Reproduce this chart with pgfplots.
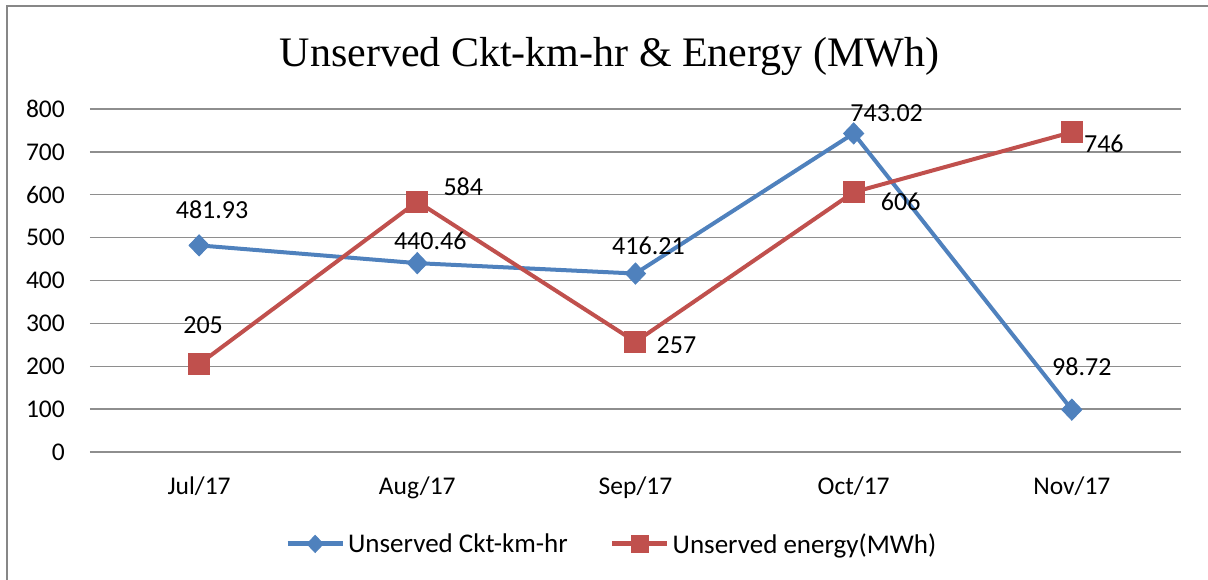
\documentclass[border=0pt]{standalone}
\usepackage{fontspec}
\setmainfont{Carlito}
\newfontfamily\titlefont{Liberation Serif}
\usepackage{pgfplots}
\pgfplotsset{compat=1.18}
\usepackage{pgfplotstable}
\definecolor{sblue}{HTML}{4F81BD}
\definecolor{sred}{HTML}{C0504D}
\definecolor{gridc}{HTML}{8E8E8E}
\definecolor{framec}{HTML}{878787}

\pgfplotstableread{
x y dx dy lab
0 481.93 13 35.4 481.93
1 440.46 13 22.7 440.46
2 416.21 13 28 416.21
3 743.02 33 20 743.02
4 98.72 10 43 98.72
}\blueT

\pgfplotstableread{
x y dx dy lab
0 205 4 38.6 205
1 584 46 14.6 584
2 257 41 -3 257
3 606 47 -9.3 606
4 746 32 -11.5 746
}\redT

\begin{document}
\begin{tikzpicture}
\draw[framec, line width=2pt] (-83pt,-140pt) -- (-83pt,446pt) -- (1130pt,446pt);
\begin{axis}[
  at={(0pt,0pt)}, anchor=south west,
  scale only axis, width=1091pt, height=343pt,
  xmin=-0.5, xmax=4.5, ymin=0, ymax=800,
  xtick={0,1,2,3,4},
  xticklabels={Jul/17,Aug/17,Sep/17,Oct/17,Nov/17},
  ytick={0,100,...,800},
  axis line style={draw=none},
  major tick length=0pt,
  ymajorgrids,
  grid style={gridc, line width=1.3pt},
  tick label style={font=\fontsize{25.5}{30}\selectfont, /pgf/number format/assume math mode=true},
  yticklabel style={anchor=east, inner sep=0pt, xshift=-25pt},
  xticklabel style={anchor=base, inner sep=0pt, yshift=-43pt},
  clip=false,
  legend style={at={(0.1787,-0.268)}, anchor=west, draw=none, fill=none, inner sep=0pt,
    font=\fontsize{27}{31}\selectfont,
    nodes={inner xsep=3pt, inner ysep=1pt},
    /tikz/every even column/.append style={column sep=39pt}},
  legend columns=2,
  legend cell align=left,
  legend image code/.code={
    \draw[mark repeat=2,mark phase=2,#1, line width=5pt, mark size=8.5pt]
      plot coordinates {(0pt,0pt) (27.5pt,0pt) (55pt,0pt)};},
  every node near coord/.append style={anchor=center, inner sep=0pt,
    xshift=\dx pt, yshift=\dy pt, text=black, font=\fontsize{26}{30}\selectfont},
]
\addplot[sblue, line width=4pt, mark=diamond*,
  mark size=10.5pt, mark options={solid, line width=1pt, xscale=1.27},
  nodes near coords, point meta=explicit symbolic,
  visualization depends on={\thisrow{dx}\as\dx},
  visualization depends on={\thisrow{dy}\as\dy}]
  table[x=x, y=y, meta=lab]{\blueT};
\addlegendentry{Unserved Ckt-km-hr}
\addplot[sred, line width=4pt, mark=square*,
  mark size=10.5pt, mark options={solid, line width=1pt},
  nodes near coords, point meta=explicit symbolic,
  visualization depends on={\thisrow{dx}\as\dx},
  visualization depends on={\thisrow{dy}\as\dy}]
  table[x=x, y=y, meta=lab]{\redT};
\addlegendentry{Unserved energy(MWh)}
\end{axis}
\node[anchor=base, font=\titlefont\fontsize{42}{50}\selectfont] at (519.5pt,385pt)
  {Unserved Ckt-km-hr \& Energy (MWh)};
\pgfresetboundingbox
\useasboundingbox (-90pt,-128pt) rectangle (1118pt,452pt);
\end{tikzpicture}
\end{document}
